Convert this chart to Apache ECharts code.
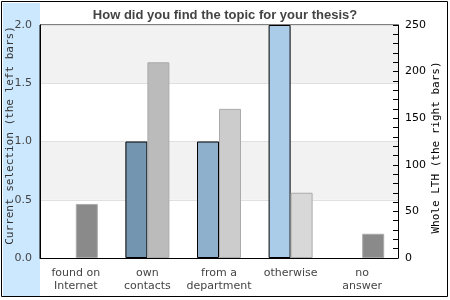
<!DOCTYPE html>
<html><head><meta charset="utf-8">
<script src="https://cdn.jsdelivr.net/npm/echarts@6/dist/echarts.min.js"></script>
<style>html,body{margin:0;padding:0;background:#fff}#c{width:450px;height:300px}</style>
</head><body><div id="c"></div>
<script>
const categories = ['found on\nInternet', 'own\ncontacts', 'from a\ndepartment', 'otherwise', 'no\nanswer'];
const currentSelection = [0, 1.0, 1.0, 2.0, 0];
const wholeLTH = [58, 210, 160, 70, 26];
const leftTicks = [0, 0.5, 1.0, 1.5, 2.0];
const rightTicks = [0, 50, 100, 150, 200, 250];

const leftColors = ['#7395b0', '#7395b0', '#8fb0cc', '#aacce8', '#aacce8'];
const rightColors = ['#8a8a8a', '#bbbbbb', '#cccccc', '#d8d8d8', '#8a8a8a'];

const chart = echarts.init(document.getElementById('c'), null, {renderer: 'canvas'});
chart.setOption({
  animation: false,
  backgroundColor: '#fff',
  graphic: [
    {type: 'rect', z: -10, shape: {x: 1.5, y: 1.5, width: 446, height: 295}, style: {fill: '#fff', stroke: '#000', lineWidth: 1}},
    {type: 'rect', z: -9, shape: {x: 3, y: 3, width: 37, height: 293}, style: {fill: '#cce8ff'}}
  ],
  title: {
    text: 'How did you find the topic for your thesis?',
    left: 'center', top: 4,
    textStyle: {fontFamily: 'Liberation Sans', fontWeight: 'bold', fontSize: 13, color: '#444'}
  },
  grid: {left: 40, right: 52, top: 25, bottom: 42, containLabel: false, outerBoundsMode: 'none',
    show: true, borderColor: '#000', borderWidth: 1, backgroundColor: 'transparent'},
  xAxis: {
    type: 'category', data: categories,
    axisLine: {lineStyle: {color: '#000'}},
    axisTick: {show: false},
    axisLabel: {fontFamily: 'DejaVu Sans', fontSize: 11, color: '#444', lineHeight: 13, margin: 9, interval: 0}
  },
  yAxis: [
    {
      type: 'value', min: 0, max: 2, interval: 0.5, position: 'left',
      name: 'Current selection (the left bars)', nameLocation: 'middle', nameGap: 24, nameRotate: 90,
      nameMoveOverlap: false,
      nameTextStyle: {fontFamily: 'DejaVu Sans Mono', fontSize: 11, color: '#333', padding: [0, 0, 0, 12]},
      axisLine: {show: true, lineStyle: {color: '#000'}},
      axisTick: {show: false},
      axisLabel: {fontFamily: 'DejaVu Sans', fontSize: 11, color: '#444', margin: 8,
        formatter: v => leftTicks.includes(v) ? v.toFixed(1) : ''},
      splitLine: {show: true, lineStyle: {color: '#e0e0e0'}},
      splitArea: {show: true, areaStyle: {color: ['#ffffff', '#f2f2f2']}}
    },
    {
      type: 'value', min: 0, max: 250, interval: 50, position: 'right',
      name: 'Whole LTH (the right bars)', nameLocation: 'middle', nameGap: 33, nameRotate: 90,
      nameMoveOverlap: false,
      nameTextStyle: {fontFamily: 'DejaVu Sans Mono', fontSize: 11, color: '#000', padding: [0, 12, 0, 0]},
      axisLine: {show: true, lineStyle: {color: '#000'}},
      axisTick: {show: true, inside: true, length: 5, lineStyle: {color: '#000'}},
      minorTick: {show: true, splitNumber: 5, length: 5, lineStyle: {color: '#000'}},
      axisLabel: {fontFamily: 'DejaVu Sans', fontSize: 11, color: '#000', margin: 7,
        formatter: v => rightTicks.includes(v) ? String(v) : ''},
      splitLine: {show: false}
    }
  ],
  series: [
    {
      type: 'bar', yAxisIndex: 0, barWidth: 22, barGap: '0%',
      data: currentSelection.map((v, i) => ({value: v, itemStyle: {color: leftColors[i], borderWidth: v === 0 ? 0 : 1}})),
      itemStyle: {borderColor: '#000', borderWidth: 1}
    },
    {
      type: 'bar', yAxisIndex: 1, barWidth: 22, barGap: '0%',
      data: wholeLTH.map((v, i) => ({value: v, itemStyle: {color: rightColors[i]}})),
      itemStyle: {borderColor: '#aaaaaa', borderWidth: 1}
    }
  ]
});
</script></body></html>
